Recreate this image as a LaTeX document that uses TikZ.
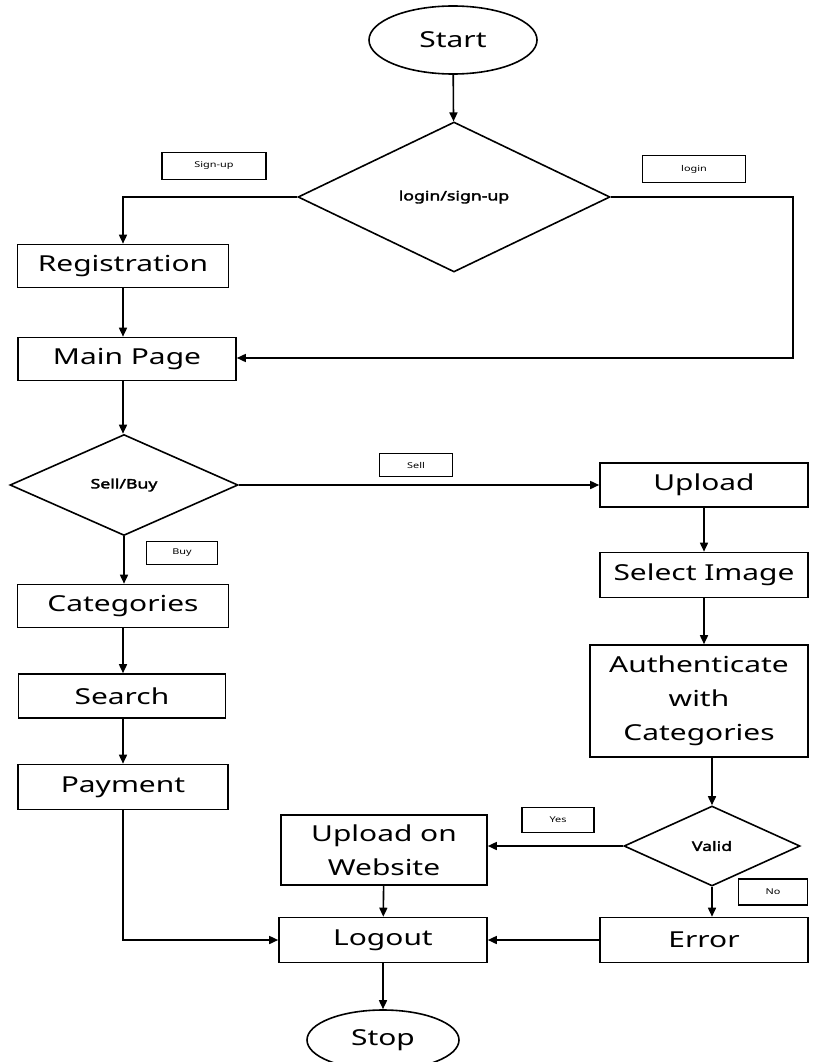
\documentclass[tikz,border=0pt]{standalone}
\usepackage{fontspec}
\setmainfont{Noto Sans}[FakeStretch=1.36, AutoFakeBold=2.5]
\usetikzlibrary{arrows.meta, shapes.geometric, positioning}

\begin{document}
\begin{tikzpicture}[x=1pt, y=-1pt, >={Triangle[length=9pt, width=8pt]}, line width=1.6pt,
    box/.style={rectangle, draw, inner sep=0pt, align=center, font=\fontsize{22}{34}\selectfont},
    term/.style={ellipse, draw, inner sep=0pt, font=\fontsize{22}{25}\selectfont},
    decision/.style={diamond, draw, inner sep=0pt, font=\bfseries\fontsize{13}{15}\selectfont},
    tag/.style={rectangle, draw, inner sep=0pt, font=\fontsize{8}{10}\selectfont}]

    \useasboundingbox (0,0) rectangle (820,1062);

    \node[term, minimum width=168pt, minimum height=68pt] (start) at (453,40) {Start};
    \node[decision, minimum width=312pt, minimum height=150pt] (login) at (454,197) {login/sign-up};
    \node[box, minimum width=211pt, minimum height=43pt] (reg) at (123,266) {Registration};
    \node[box, minimum width=218pt, minimum height=43pt] (main) at (127,359) {Main Page};
    \node[decision, minimum width=228pt, minimum height=101pt] (sellbuy) at (124,485) {Sell/Buy};
    \node[box, minimum width=211pt, minimum height=43pt] (cat) at (123,606) {Categories};
    \node[box, minimum width=207pt, minimum height=44pt] (search) at (122,696) {Search};
    \node[box, minimum width=210pt, minimum height=45pt] (pay) at (123,787) {Payment};
    \node[box, minimum width=208pt, minimum height=44pt] (upload) at (704,485) {Upload};
    \node[box, minimum width=208pt, minimum height=45pt] (select) at (704,575) {Select Image};
    \node[box, minimum width=218pt, minimum height=112pt] (auth) at (699,701) {Authenticate\\with\\Categories};
    \node[decision, minimum width=176pt, minimum height=80pt] (valid) at (712,846) {Valid};
    \node[box, minimum width=206pt, minimum height=70pt] (web) at (384,850) {Upload on\\Website};
    \node[box, minimum width=208pt, minimum height=45pt] (logout) at (383,940) {Logout};
    \node[box, minimum width=208pt, minimum height=45pt] (error) at (704,940) {Error};
    \node[term, minimum width=152pt, minimum height=60pt] (stop) at (383,1040) {Stop};

    % edge labels
    \node[tag, minimum width=104pt, minimum height=27pt] (tsign) at (214,166) {Sign-up};
    \node[tag, minimum width=103pt, minimum height=27pt] (tlogin) at (694,169) {login};
    \node[tag, minimum width=73pt, minimum height=23pt] (tsell) at (416,465) {Sell};
    \node[tag, minimum width=71pt, minimum height=23pt] (tbuy) at (182,553) {Buy};
    \node[tag, minimum width=72pt, minimum height=25pt] (tyes) at (558,820) {Yes};
    \node[tag, minimum width=69pt, minimum height=26pt] (tno) at (773,892) {No};

    \coordinate (turn) at (793,358);

    \draw[->] (start) -- (login);
    \draw[->] (login.west) -| (reg.north);
    \draw[->] (login.east) -| (turn) -- (turn -| main.east);
    \draw[->] (reg.south) -- (reg.south |- main.north);
    \draw[->] (reg.south |- main.south) -- (reg.south |- sellbuy.north);
    \draw[->] (sellbuy.east) -- (sellbuy.east -| upload.west);
    \draw[->] (sellbuy.south) -- (sellbuy.south |- cat.north);
    \draw[->] (cat.south) -- (cat.south |- search.north);
    \draw[->] (cat.south |- search.south) -- (cat.south |- pay.north);
    \draw[->] (pay.south) |- (logout.west);
    \draw[->] (upload) -- (select);
    \draw[->] (select.south) -- (select.south |- auth.north);
    \draw[->] (auth.south -| valid.north) -- (valid.north);
    \draw[->] (valid.west) -- (valid.west -| web.east);
    \draw[->] (valid.south) -- (valid.south |- error.north);
    \draw[->] (web) -- (logout);
    \draw[->] (error) -- (logout);
    \draw[->] (logout) -- (stop);

\end{tikzpicture}
\end{document}
